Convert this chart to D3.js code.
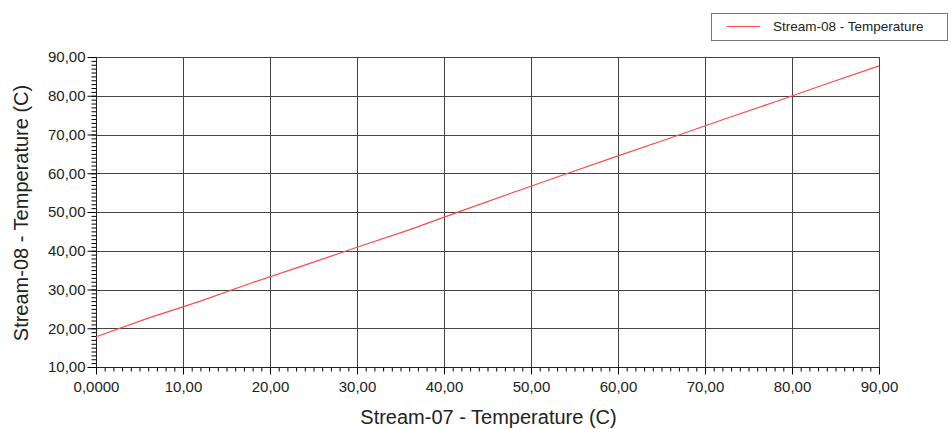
<html>
<head>
<script src="https://d3js.org/d3.v7.min.js"></script>
<style>
body { margin: 0; background: #fff; font-family: Arial, 'Liberation Sans', sans-serif; }
text { fill: #222; }
</style>
</head>
<body>
<div id="plot"></div>
<script>
// stream data
var stream07 = [0, 6, 12, 18, 24, 30, 36, 42, 48, 54, 60, 66, 72, 78, 84, 90];
var stream08 = [17.8, 22.6, 27.0, 31.8, 36.3, 40.9, 45.4, 50.3, 55.1, 59.8, 64.5, 69.1, 73.8, 78.4, 83.1, 87.7];
var xTicks = [0, 10, 20, 30, 40, 50, 60, 70, 80, 90];
var yTicks = [10, 20, 30, 40, 50, 60, 70, 80, 90];
var xTickLabels = ["0,0000", "10,00", "20,00", "30,00", "40,00", "50,00", "60,00", "70,00", "80,00", "90,00"];
var seriesName = "Stream-08 - Temperature";

var width = 951, height = 429;
var plotLeft = 96, plotRight = 879, plotTop = 57, plotBottom = 367;

var svg = d3.select("#plot").append("svg")
.attr("width", width).attr("height", height);

var xScale = d3.scaleLinear().domain([0, 90]).range([plotLeft, plotRight]);
var yScale = d3.scaleLinear().domain([10, 90]).range([plotBottom, plotTop]);

var grid = "#444";

// grid lines
svg.selectAll("line.vgrid").data(xTicks.slice(1)).enter().append("line")
.attr("x1", function(d) { return Math.round(xScale(d)) + 0.5; })
.attr("x2", function(d) { return Math.round(xScale(d)) + 0.5; })
.attr("y1", plotTop).attr("y2", plotBottom)
.style("stroke", grid);

svg.selectAll("line.hgrid").data(yTicks.slice(1)).enter().append("line")
.attr("y1", function(d) { return Math.round(yScale(d)) + 0.5; })
.attr("y2", function(d) { return Math.round(yScale(d)) + 0.5; })
.attr("x1", plotLeft).attr("x2", plotRight)
.style("stroke", grid);

// axes with minor ticks
var xMinor = d3.range(0, 90.01, 1);
var yMinor = d3.range(10, 90.01, 1);

function styleLabels(g) {
  g.select(".domain").remove();
  g.attr("font-size", null).attr("font-family", null);
  g.selectAll("text").style("font-size", "15px").style("fill", "#222");
}

var xAxis = svg.append("g").attr("transform", "translate(0," + (plotBottom + 0.5) + ")");
xAxis.call(d3.axisBottom(xScale).tickValues(xMinor).tickSize(4).tickFormat(""))
.call(function(g) { g.select(".domain").remove(); });
xAxis.append("g").call(d3.axisBottom(xScale).tickValues(xTicks).tickSize(7)
  .tickFormat(function(d, i) { return xTickLabels[i]; }))
.call(styleLabels)
.selectAll("text").attr("y", 11).attr("dy", "0.9em");
xAxis.append("line").attr("x1", plotLeft).attr("x2", plotRight + 1).style("stroke", "#222");

var yAxis = svg.append("g").attr("transform", "translate(" + (plotLeft + 0.5) + ",0)");
yAxis.call(d3.axisLeft(yScale).tickValues(yMinor).tickSize(5).tickFormat(""))
.call(function(g) { g.select(".domain").remove(); });
yAxis.append("g").call(d3.axisLeft(yScale).tickValues(yTicks).tickSize(9)
  .tickFormat(function(d) { return d3.format(".2f")(d).replace(".", ","); }))
.call(styleLabels)
.selectAll("text").attr("x", -11);
yAxis.append("line").attr("y1", plotTop).attr("y2", plotBottom).style("stroke", "#222");

// series line
var line = d3.line()
.x(function(d, i) { return xScale(stream07[i]); })
.y(function(d) { return yScale(d); });

svg.append("path").datum(stream08)
.attr("d", line)
.style("fill", "none")
.style("stroke", "#ff4a4a")
.style("stroke-width", 1.2);

// axis titles
svg.append("text")
.attr("x", (plotLeft + plotRight) / 2 + 1).attr("y", 424)
.attr("text-anchor", "middle")
.style("font-size", "20px")
.text("Stream-07 - Temperature (C)");

svg.append("text")
.attr("transform", "translate(28,213) rotate(-90)")
.attr("text-anchor", "middle")
.style("font-size", "20px")
.text("Stream-08 - Temperature (C)");

// legend
var legend = svg.append("g");
legend.append("rect")
.attr("x", 711.5).attr("y", 13.5).attr("width", 236).attr("height", 27)
.style("fill", "#fff").style("stroke", "#777");
legend.append("line")
.attr("x1", 727).attr("x2", 760).attr("y1", 26.5).attr("y2", 26.5)
.style("stroke", "#ff4a4a");
legend.append("text")
.attr("x", 773).attr("y", 31)
.style("font-size", "13.5px")
.text(seriesName);
</script>
</body>
</html>
